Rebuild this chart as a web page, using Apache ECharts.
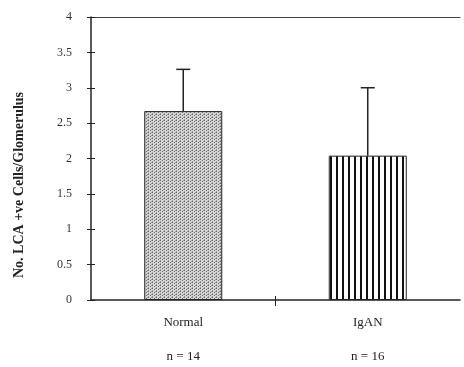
<!DOCTYPE html>
<html>
<head>
<meta charset="utf-8">
<script src="https://cdn.jsdelivr.net/npm/echarts@6/dist/echarts.min.js"></script>
<style>
  html, body { margin: 0; padding: 0; background: #fff; }
  #chart { width: 464px; height: 367px; }
</style>
</head>
<body>
<div id="chart"></div>
<script>
const categories = ["Normal", "IgAN"];
const sampleSizes = ["n = 14", "n = 16"];
const means = [2.67, 2.04];
const errorTops = [3.26, 3.0];
const yTicks = [0, 0.5, 1, 1.5, 2, 2.5, 3, 3.5, 4];

// stipple pattern for the first bar
function dotPattern() {
  const c = document.createElement("canvas");
  c.width = 4; c.height = 3;
  const ctx = c.getContext("2d");
  ctx.fillStyle = "#d6d6d6";
  ctx.fillRect(0, 0, 4, 3);
  ctx.fillStyle = "#6a6a6a";
  ctx.fillRect(0, 0, 1, 1);
  ctx.fillRect(2, 1, 1, 1);
  ctx.fillStyle = "#9a9a9a";
  ctx.fillRect(0, 2, 1, 1);
  ctx.fillRect(3, 0, 1, 1);
  return c;
}

// vertical stripes for the second bar
function stripePattern() {
  const c = document.createElement("canvas");
  c.width = 6; c.height = 4;
  const ctx = c.getContext("2d");
  ctx.fillStyle = "#ffffff";
  ctx.fillRect(0, 0, 6, 4);
  ctx.fillStyle = "#111111";
  ctx.fillRect(0, 0, 2, 4);
  return c;
}

const fills = [
  { image: dotPattern(), repeat: "repeat" },
  { image: stripePattern(), repeat: "repeat" }
];

const chart = echarts.init(document.getElementById("chart"));
const serif = "Liberation Serif";

const option = {
  animation: false,
  grid: { left: 91, right: 4, top: 17, bottom: 67, outerBoundsMode: "none", containLabel: false },
  xAxis: [
    {
      type: "category",
      data: categories,
      axisLine: { lineStyle: { color: "#222", width: 1.5 } },
      axisTick: { show: false },
      axisLabel: {
        margin: 6,
        fontFamily: serif,
        fontSize: 13,
        color: "#222",
        lineHeight: 34,
        formatter: (v, i) => v + "\n" + sampleSizes[i]
      }
    },
    {
      type: "value",
      min: 0, max: 2,
      position: "bottom",
      axisLine: { show: false },
      splitLine: { show: false },
      axisLabel: { show: false },
      axisTick: { show: true, customValues: [1], length: 6, lineStyle: { color: "#222" } }
    },
    {
      type: "value",
      min: 0, max: 2,
      position: "bottom",
      axisLine: { show: false },
      splitLine: { show: false },
      axisLabel: { show: false },
      axisTick: { show: true, inside: true, customValues: [1], length: 4, lineStyle: { color: "#222" } }
    },
    {
      type: "category",
      data: categories,
      position: "top",
      axisLine: { lineStyle: { color: "#444", width: 1 } },
      axisTick: { show: false },
      axisLabel: { show: false }
    }
  ],
  yAxis: [
    {
      type: "value",
      min: 0, max: 4, interval: 0.5,
      axisLine: { show: true, lineStyle: { color: "#222", width: 1.5 } },
      axisTick: { show: true, length: 4, lineStyle: { color: "#222" } },
      splitLine: { show: false },
      axisLabel: {
        margin: 19,
        fontFamily: serif,
        fontSize: 12,
        color: "#333",
        formatter: v => (yTicks.includes(v) ? String(v) : "")
      }
    },
    {
      type: "value",
      min: 0, max: 4, interval: 0.5,
      position: "left",
      axisLine: { show: false },
      axisTick: { show: true, inside: true, length: 4, lineStyle: { color: "#222" } },
      splitLine: { show: false },
      axisLabel: { show: false }
    }
  ],
  graphic: [
    {
      type: "text",
      x: 19, y: 185,
      rotation: Math.PI / 2,
      style: {
        text: "No. LCA +ve Cells/Glomerulus",
        font: "bold 14px 'Liberation Serif'",
        fill: "#222",
        align: "center",
        verticalAlign: "middle"
      }
    }
  ],
  series: [
    {
      type: "bar",
      xAxisIndex: 0,
      yAxisIndex: 0,
      barWidth: 78,
      data: means.map((v, i) => ({
        value: v,
        itemStyle: { color: fills[i], borderColor: "#222", borderWidth: 1 }
      })),
      z: 2
    },
    {
      type: "custom",
      xAxisIndex: 0,
      yAxisIndex: 0,
      data: means.map((v, i) => [i, v, errorTops[i]]),
      renderItem: function (params, api) {
        const base = api.coord([api.value(0), api.value(1)]);
        const top = api.coord([api.value(0), api.value(2)]);
        const style = { stroke: "#222", lineWidth: 1.5 };
        return {
          type: "group",
          children: [
            { type: "line", shape: { x1: base[0], y1: base[1], x2: top[0], y2: top[1] }, style },
            { type: "line", shape: { x1: top[0] - 7, y1: top[1], x2: top[0] + 7, y2: top[1] }, style }
          ]
        };
      },
      z: 3
    }
  ]
};

chart.setOption(option);
</script>
</body>
</html>
